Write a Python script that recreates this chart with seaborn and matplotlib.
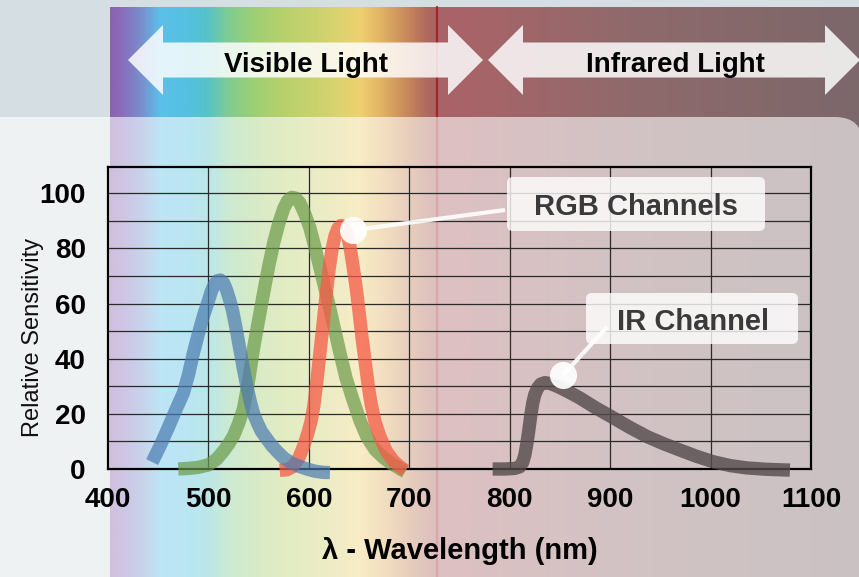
import numpy as np
import pandas as pd
import matplotlib
matplotlib.use("Agg")
import matplotlib.pyplot as plt
import seaborn as sns
from matplotlib.patches import Polygon, FancyBboxPatch
from matplotlib.colors import to_rgb

# ---------------- data ----------------
blue_x = [444, 452, 460, 467, 475, 480, 485, 490, 495, 500, 503, 506, 509, 512, 515, 518, 521, 524, 527, 531,
          535, 538, 542, 545, 549, 553, 558, 563, 568, 575, 582, 590, 598, 606, 614, 621]
blue_y = [2.5, 8.5, 15, 21, 27.5, 34, 42, 49, 55.5, 61, 64.5, 67, 68.3, 68.5, 67.5, 65, 61.5, 57.5, 52, 44,
          36, 30.5, 24, 20, 16.5, 13.5, 11, 8.5, 6.5, 4, 2.3, 1, 0, -0.8, -1.2, -1.3]

green_x = [470, 480, 490, 500, 508, 515, 520, 525, 530, 535, 540, 545, 550, 555, 560, 565, 570, 575, 579, 583,
           587, 591, 596, 601, 606, 611, 616, 621, 626, 631, 637, 644, 651, 658, 666, 674, 682, 690, 696]
green_y = [0, 0.2, 0.6, 1.5, 3.5, 6.5, 9, 12, 16.5, 22, 32, 44, 54, 64, 73.5, 82, 89, 94.5, 97.3, 98.5,
           98.2, 96.5, 92.5, 87.5, 80.5, 73, 65.5, 58, 50, 42, 33, 25, 17.5, 11.5, 7, 4.2, 2, 0.3, -1]

red_x = [571, 578, 584, 590, 595, 599, 602, 605, 608, 611, 614, 617, 620, 623, 626, 629, 632, 635, 638, 641,
         644, 647, 650, 653, 656, 659, 662, 666, 671, 677, 684, 690, 696]
red_y = [-0.5, -0.3, 0.8, 4, 8.5, 13, 17, 23, 32, 42, 52, 62.5, 72, 79.5, 84.5, 87.3, 88.3, 87.8, 85.5, 80.5,
         73.5, 66, 57, 47.5, 39, 30.5, 23.5, 17, 11.5, 6.5, 3, 1, -0.5]

ir_x = [783, 795, 805, 810, 813, 815, 817, 819, 821, 823, 825, 828, 831, 835, 840, 846, 853, 861, 870, 885,
        901, 920, 937, 953, 970, 986, 1003, 1020, 1036, 1055, 1079]
ir_y = [0, 0, 0.2, 0.8, 2.5, 5, 9, 14, 19.5, 24, 27, 29.5, 30.8, 31.3, 31, 30.2, 29, 27.5, 25.7, 22.3,
        19, 15, 11.7, 9.2, 6.8, 4.6, 2.6, 1.2, 0.4, -0.1, -0.4]

x_ticks = [400, 500, 600, 700, 800, 900, 1000, 1100]
y_ticks = [0, 20, 40, 60, 80, 100]

band_labels = ["Visible Light", "Infrared Light"]
callout_labels = ["RGB Channels", "IR Channel"]
callout_x = [644, 853]
callout_y = [86.6, 34.0]

x_label = "λ - Wavelength (nm)"
y_label = "Relative Sensitivity"

# ---------------- style ----------------
sns.set_theme(style="white")
plt.rcParams["font.family"] = ["Liberation Sans", "DejaVu Sans"]

W, H = 859, 577
fig = plt.figure(figsize=(W / 100, H / 100), dpi=100)
fig.patch.set_facecolor("#d5dfe3")

# background decoration axes (pixel coordinates)
bg = fig.add_axes([0, 0, 1, 1], zorder=0)
bg.set_xlim(0, W)
bg.set_ylim(H, 0)
bg.axis("off")

stops = [(110, "#8a62b0"), (120, "#8a6bb8"), (140, "#7a8ccc"), (160, "#5bc0e8"),
         (187, "#55c0e0"), (207, "#55c3c8"), (227, "#7fcb95"), (253, "#9ccf74"),
         (283, "#b8d06c"), (317, "#cad26e"), (350, "#e5d270"), (360, "#efd070"),
         (383, "#e0b064"), (407, "#c8885a"), (427, "#b06a5e"), (436, "#aa6262"),
         (440, "#aa6368"), (470, "#a86468"), (630, "#8f6a6c"), (859, "#7c676a")]
sx = np.array([s[0] for s in stops], float)
sc = np.array([to_rgb(s[1]) for s in stops])
xs = np.arange(110, 860)
grad = np.stack([np.interp(xs, sx, sc[:, k]) for k in range(3)], axis=-1)[None, :, :]
bg.imshow(grad, extent=[110, 859, 577, 7], aspect="auto", interpolation="bilinear", zorder=1)
bg.plot([437, 437], [7, 577], color="#a02828", lw=1.6, zorder=2)

# arrows
def arrow(x0, x1, yc, head=35, hh=35, sh=17.5):
    pts = [(x0, yc), (x0 + head, yc - hh), (x0 + head, yc - sh), (x1 - head, yc - sh),
           (x1 - head, yc - hh), (x1, yc), (x1 - head, yc + hh), (x1 - head, yc + sh),
           (x0 + head, yc + sh), (x0 + head, yc + hh)]
    bg.add_patch(Polygon(pts, closed=True, fc="white", ec="none", alpha=0.84, zorder=3))

arrow(128, 483, 60)
arrow(488, 860, 60)
bg.text(306, 71.5, band_labels[0], ha="center", va="baseline", fontsize=20,
        fontweight="bold", color="black", zorder=4)
bg.text(675, 71.5, band_labels[1], ha="center", va="baseline", fontsize=20,
        fontweight="bold", color="black", zorder=4)

# pale lower panel
bg.add_patch(FancyBboxPatch((-80, 117), 943, 560, boxstyle="round,pad=0,rounding_size=28",
                            fc="white", ec="none", alpha=0.6, zorder=5))

# ---------------- main chart ----------------
ax = fig.add_axes([108 / W, (H - 469) / H, 703 / W, 302 / H], zorder=1)
ax.set_facecolor("none")
ax.set_xlim(400, 1100)
ax.set_ylim(0, 109.5)

series = [(green_x, green_y, "#6a9a48", 0.7),
          (red_x, red_y, "#f45a45", 0.75),
          (blue_x, blue_y, "#4a7ab0", 0.7),
          (ir_x, ir_y, "#544a4b", 0.8)]
for xv, yv, col, al in series:
    d = pd.DataFrame({"wavelength": xv, "sensitivity": yv})
    sns.lineplot(data=d, x="wavelength", y="sensitivity", ax=ax, color=col, alpha=al,
                 linewidth=9.6, sort=False, estimator=None, solid_capstyle="butt",
                 solid_joinstyle="round", clip_on=False, zorder=3)

ax.set_xticks(x_ticks)
ax.set_yticks(y_ticks)
ax.set_yticks(list(range(10, 110, 20)), minor=True)
ax.grid(True, which="both", color="#2a2a2a", lw=0.9)
ax.set_axisbelow(True)
for s in ax.spines.values():
    s.set_visible(True)
    s.set_color("black")
    s.set_linewidth(1.6)
ax.tick_params(axis="both", which="both", length=0)
ax.tick_params(axis="x", pad=13)
ax.tick_params(axis="y", pad=16)
for lab in ax.get_xticklabels() + ax.get_yticklabels():
    lab.set_fontsize(20)
    lab.set_fontweight("bold")
    lab.set_color("black")

ax.set_xlabel(x_label, fontsize=21, fontweight="bold", color="black", labelpad=17)
ax.set_ylabel(y_label, fontsize=17, color="#111111")
ax.yaxis.set_label_coords(-0.091, 0.437)

# ---------------- callouts ----------------
ov = fig.add_axes([0, 0, 1, 1], zorder=3)
ov.set_xlim(0, W)
ov.set_ylim(H, 0)
ov.axis("off")

boxes = [(507, 177, 258, 54), (586, 293, 212, 51)]
line_ends = [(505, 210), (607, 327)]
text_pos = [(636, 215), (693, 330)]
inv = ax.transData.inverted()
for i in range(2):
    ex, ey = inv.transform((line_ends[i][0], H - line_ends[i][1]))
    ax.plot([callout_x[i], ex], [callout_y[i], ey], color="white", lw=3, alpha=0.9,
            clip_on=False, zorder=6, solid_capstyle="butt")
    ax.plot([callout_x[i]], [callout_y[i]], "o", ms=19.5, color="white", mec="none",
            alpha=0.93, clip_on=False, zorder=7)
    bx, by, bw, bh = boxes[i]
    ov.add_patch(FancyBboxPatch((bx, by), bw, bh, boxstyle="round,pad=0,rounding_size=6",
                                fc="white", ec="none", alpha=0.8))
    ov.text(text_pos[i][0], text_pos[i][1], callout_labels[i], ha="center", va="baseline",
            fontsize=21, fontweight="bold", color="#3a3a3a")

fig.savefig("out.png", dpi=100)
